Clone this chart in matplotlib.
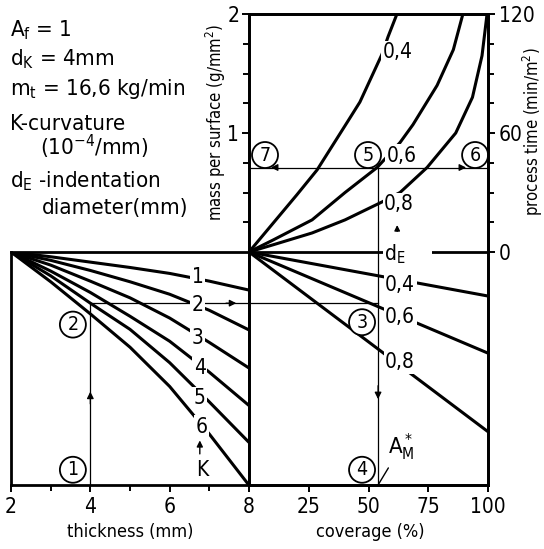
import numpy as np
import matplotlib.pyplot as plt
from matplotlib import font_manager as fm

# fuente angosta si existe (la original es tipo DIN condensada)
fuente = ['DejaVu Sans']
ancho = 'normal'
try:
    p = fm.findfont(fm.FontProperties(family='DejaVu Sans', stretch='condensed'),
                    fallback_to_default=False)
    if 'ondensed' in p:
        ancho = 'condensed'
except ValueError:
    pass
if ancho == 'normal':
    for f in ['Liberation Sans Narrow', 'Liberation Sans']:
        try:
            fm.findfont(fm.FontProperties(family=f), fallback_to_default=False)
            fuente = [f, 'DejaVu Sans']
            break
        except ValueError:
            pass
plt.rcParams['font.family'] = fuente
plt.rcParams['font.stretch'] = ancho
plt.rcParams['mathtext.default'] = 'regular'

###############################################################################
""" Datos """
###############################################################################
# panel izquierdo: espesor (mm) vs. K-curvatura
thickness = [2, 3, 4, 5, 6, 7, 8]
k_labels = ['1', '2', '3', '4', '5', '6']
k_curves = [
    [0, -0.04, -0.085, -0.13, -0.18, -0.245, -0.32],
    [0, -0.07, -0.155, -0.25, -0.355, -0.49, -0.655],
    [0, -0.11, -0.245, -0.385, -0.555, -0.76, -0.975],
    [0, -0.16, -0.34, -0.54, -0.75, -1.01, -1.29],
    [0, -0.20, -0.43, -0.65, -0.93, -1.26, -1.60],
    [0, -0.25, -0.52, -0.80, -1.13, -1.53, -1.96],
]
k_label_pos = [(6.71, -0.21), (6.71, -0.445), (6.71, -0.72),
               (6.76, -0.975), (6.76, -1.23), (6.81, -1.47)]

# panel derecho superior: coverage (%) vs. mass per surface (g/mm2)
de_labels = ['0,4', '0,6', '0,8']
cov_04 = [0, 10, 20, 28.5, 41.4, 46.4, 55.6, 58.2, 61.9]
mass_04 = [0, 0.24, 0.48, 0.69, 1.10, 1.26, 1.66, 1.81, 2.0]
cov_06 = [0, 10, 26.4, 40.2, 53.6, 63.2, 68.6, 78.7, 85.5, 89.5]
mass_06 = [0, 0.10, 0.27, 0.50, 0.71, 0.92, 1.07, 1.40, 1.70, 2.0]
cov_08 = [0, 10, 26.4, 40.2, 55.6, 63.2, 74.5, 86.5, 93.5, 97.5, 99.6]
mass_08 = [0, 0.06, 0.16, 0.27, 0.42, 0.50, 0.71, 1.00, 1.30, 1.65, 2.0]

# panel derecho inferior: rectas d_E
cov_line = [0, 100]
low_04 = [0, -0.37]
low_06 = [0, -0.85]
low_08 = [0, -1.51]

# camino de lectura del ejemplo
thk_read = 4
y_read = -0.43
cov_read = 54
mass_read = 0.71

###############################################################################
""" Figura """
###############################################################################
W, H = 544, 549
def fx(px):
    return px / W
def fy(py):
    return 1 - py / H

x_l, x_m, x_r = 11, 249, 488
y_t, y_0, y_b = 14, 252, 485
ylow = -(y_b - y_0) / ((y_0 - y_t) / 2.0)

fig = plt.figure(figsize=(W / 100, H / 100), dpi=100)
ax_l = fig.add_axes([fx(x_l), fy(y_b), fx(x_m) - fx(x_l), fy(y_0) - fy(y_b)])
ax_r = fig.add_axes([fx(x_m), fy(y_b), fx(x_r) - fx(x_m), fy(y_t) - fy(y_b)])

lw_ax = 2.0
lw_c = 2.2
lw_r = 0.9
fs_t = 15
txt_box = dict(fc='white', ec='none', pad=1.0)

for ax in (ax_l, ax_r):
    for s in ax.spines.values():
        s.set_linewidth(lw_ax)
    ax.tick_params(which='both', direction='out', width=1.4, labelsize=fs_t)
    ax.tick_params(which='major', length=5)
    ax.tick_params(which='minor', length=4)

# ---------------------------------------------------------------- izquierda
ax_l.set_xlim(2, 8)
ax_l.set_ylim(ylow, 0)
ax_l.set_xticks([2, 4, 6, 8])
ax_l.set_xticks([3, 5, 7], minor=True)
ax_l.set_yticks([])
for i in range(len(k_curves)):
    ax_l.plot(thickness, k_curves[i], color='k', lw=lw_c, zorder=2,
              solid_capstyle='butt')
    ax_l.text(k_label_pos[i][0], k_label_pos[i][1], k_labels[i], fontsize=15,
              ha='center', va='center', bbox=txt_box, zorder=3)
ax_l.annotate('', xy=(6.76, -1.56), xytext=(6.76, -1.72),
              arrowprops=dict(arrowstyle='-|>', color='k', lw=1.0,
                              mutation_scale=9))
ax_l.text(6.81, -1.83, 'K', fontsize=15, ha='center', va='center')

ax_l.plot([thk_read, thk_read], [ylow, y_read], color='k', lw=lw_r, zorder=2.5)
ax_l.plot([thk_read, 8], [y_read, y_read], color='k', lw=lw_r, zorder=2.5)
ax_l.annotate('', xy=(4, -1.15), xytext=(4, -1.3),
              arrowprops=dict(arrowstyle='-|>', color='k', lw=lw_r,
                              mutation_scale=10))
ax_l.annotate('', xy=(7.75, y_read), xytext=(7.35, y_read),
              arrowprops=dict(arrowstyle='-|>', color='k', lw=lw_r,
                              mutation_scale=10))

circ = dict(boxstyle='circle,pad=0.18', fc='white', ec='k', lw=1.3)
ax_l.text(3.56, -1.83, '1', fontsize=14, ha='center', va='center', bbox=circ)
ax_l.text(3.56, -0.61, '2', fontsize=14, ha='center', va='center', bbox=circ)

# ---------------------------------------------------------------- derecha
ax_r.set_xlim(0, 100)
ax_r.set_ylim(ylow, 2)
ax_r.set_xticks([25, 50, 75, 100])
ax_r.set_yticks([1, 2])
ax_r.set_yticks([0.25, 0.5, 0.75, 1.25, 1.5, 1.75], minor=True)
ax_r.tick_params(axis='y', pad=2)
ax_r.axhline(0, color='k', lw=lw_ax, zorder=2)

ax_t = ax_r.twinx()
ax_t.set_ylim(ylow * 60, 120)
ax_t.set_yticks([0, 60, 120])
ax_t.set_yticks([15, 30, 45, 75, 90, 105], minor=True)
ax_t.tick_params(which='both', direction='out', width=1.4, labelsize=fs_t,
                 pad=3)
ax_t.tick_params(which='major', length=5)
ax_t.tick_params(which='minor', length=4)
for s in ax_t.spines.values():
    s.set_linewidth(lw_ax)

ax_r.plot(cov_04, mass_04, color='k', lw=lw_c, zorder=2)
ax_r.plot(cov_06, mass_06, color='k', lw=lw_c, zorder=2)
ax_r.plot(cov_08, mass_08, color='k', lw=lw_c, zorder=2)
ax_r.plot(cov_line, low_04, color='k', lw=lw_c, zorder=2)
ax_r.plot(cov_line, low_06, color='k', lw=lw_c, zorder=2)
ax_r.plot(cov_line, low_08, color='k', lw=lw_c, zorder=2)

# etiquetas d_E
up_pos = [(56.0, 1.68), (57.5, 0.81), (56.5, 0.40)]
low_pos = [(57.0, -0.277), (57.0, -0.55), (57.0, -0.925)]
for i in range(3):
    ax_r.text(up_pos[i][0], up_pos[i][1], de_labels[i], fontsize=15,
              ha='left', va='center', bbox=txt_box, zorder=3)
    ax_r.text(low_pos[i][0], low_pos[i][1], de_labels[i], fontsize=15,
              ha='left', va='center', bbox=txt_box, zorder=3)
ax_r.text(56.5, -0.02, 'd$_E$     ', fontsize=15, ha='left', va='center',
          bbox=dict(fc='white', ec='none', pad=0.5), zorder=3)
ax_r.annotate('', xy=(62, 0.25), xytext=(62, 0.15),
              arrowprops=dict(arrowstyle='-|>', color='k', lw=1.0,
                              mutation_scale=8))

# lineas de lectura
ax_r.plot([0, cov_read], [y_read, y_read], color='k', lw=lw_r, zorder=2.5)
ax_r.plot([cov_read, cov_read], [ylow, mass_read], color='k', lw=lw_r,
          zorder=2.5)
ax_r.plot([0, 100], [mass_read, mass_read], color='k', lw=lw_r, zorder=2.5)
ax_r.annotate('', xy=(cov_read, -1.26), xytext=(cov_read, -1.1),
              arrowprops=dict(arrowstyle='-|>', color='k', lw=lw_r,
                              mutation_scale=10))
ax_r.annotate('', xy=(8, mass_read), xytext=(13, mass_read),
              arrowprops=dict(arrowstyle='-|>', color='k', lw=lw_r,
                              mutation_scale=10))
ax_r.annotate('', xy=(92, mass_read), xytext=(87, mass_read),
              arrowprops=dict(arrowstyle='-|>', color='k', lw=lw_r,
                              mutation_scale=10))

ax_r.text(47.3, -0.59, '3', fontsize=14, ha='center', va='center', bbox=circ)
ax_r.text(47.3, -1.83, '4', fontsize=14, ha='center', va='center', bbox=circ)
ax_r.text(49.8, 0.815, '5', fontsize=14, ha='center', va='center', bbox=circ)
ax_r.text(94.6, 0.815, '6', fontsize=14, ha='center', va='center', bbox=circ)
ax_r.text(6.7, 0.815, '7', fontsize=14, ha='center', va='center', bbox=circ)

ax_r.annotate('$A^*_M$', xy=(cov_read, ylow), xytext=(58.0, -1.64),
              fontsize=16, ha='left', va='center',
              arrowprops=dict(arrowstyle='-', color='k', lw=1.0,
                              shrinkA=2, shrinkB=0))

###############################################################################
""" Textos """
###############################################################################
fig.text(fx(130), fy(532), 'thickness (mm)', fontsize=13, ha='center',
         va='center')
fig.text(fx(370), fy(532), 'coverage (%)', fontsize=13, ha='center',
         va='center')
fig.text(fx(216), fy(122), 'mass per surface (g/mm$^2$)', fontsize=12,
         rotation=90, ha='center', va='center')
fig.text(fx(533), fy(132), 'process time (min/m$^2$)', fontsize=12,
         rotation=90, ha='center', va='center')

info = [('A$_f$ = 1', 10, 36), ('d$_K$ = 4mm', 10, 65),
        ('m$_t$ = 16,6 kg/min', 10, 95), ('K-curvature', 10, 130),
        ('(10$^{-4}$/mm)', 40, 155), ('d$_E$ -indentation', 10, 187),
        ('diameter(mm)', 42, 214)]
for s, px, py in info:
    fig.text(fx(px), fy(py), s, fontsize=16, ha='left', va='baseline')

plt.savefig('out.png', dpi=100)
